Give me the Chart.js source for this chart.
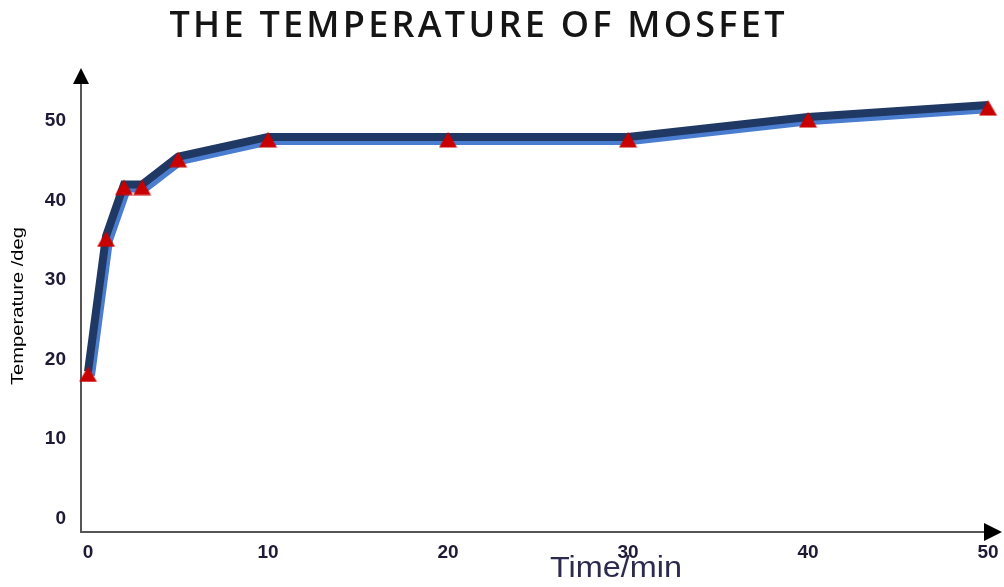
<!DOCTYPE html>
<html>
<head>
<meta charset="utf-8">
<title>The Temperature of MOSFET</title>
<script src="https://cdn.jsdelivr.net/npm/chart.js@4/dist/chart.umd.min.js"></script>
<style>
  html, body { margin: 0; padding: 0; background: #ffffff; }
  #wrap { width: 1004px; height: 587px; }
</style>
</head>
<body>
<div id="wrap"><canvas id="chart" width="1004" height="587"></canvas></div>
<script>
// Time since power-on (min) and measured MOSFET temperature (deg)
const time = [0, 1, 2, 3, 5, 10, 20, 30, 40, 50];
const temperature = [18.5, 35.5, 42, 42, 45.5, 48, 48, 48, 50.5, 52];

// Axis tick values
const xTicks = [0, 10, 20, 30, 40, 50];
const yTicks = [0, 10, 20, 30, 40, 50];

const chartTitle = 'THE TEMPERATURE OF MOSFET';
const xTitle = 'Time/min';
const yTitle = 'Temperature /deg';

const points = time.map((t, i) => ({ x: t, y: temperature[i] }));

// Red triangle marker, sitting slightly below the data point
function makeTriangle() {
  const c = document.createElement('canvas');
  c.width = 19; c.height = 22;
  const g = c.getContext('2d');
  g.fillStyle = '#c80000';
  g.beginPath();
  g.moveTo(9.5, 6);
  g.lineTo(18.5, 21.5);
  g.lineTo(0.5, 21.5);
  g.closePath();
  g.fill();
  return c;
}
const triangle = makeTriangle();

const tickFont = { family: "'Liberation Sans', Arial, sans-serif", size: 19, weight: 'bold' };
const tickColor = '#1e1a35';

// Offset blue "shadow" under the navy line
const lineShadow = {
  id: 'lineShadow',
  beforeDatasetDraw(chart, args) {
    if (args.index !== 1) return;
    const ctx = chart.ctx;
    ctx.save();
    ctx.shadowColor = '#4a7dd0';
    ctx.shadowOffsetX = 3;
    ctx.shadowOffsetY = 4;
    ctx.shadowBlur = 0;
  },
  afterDatasetDraw(chart, args) {
    if (args.index !== 1) return;
    chart.ctx.restore();
  }
};

// White page, arrow heads on both axes, and the titles
const decorations = {
  id: 'decorations',
  beforeDraw(chart) {
    const ctx = chart.ctx;
    ctx.save();
    ctx.fillStyle = '#ffffff';
    ctx.fillRect(0, 0, chart.width, chart.height);
    ctx.restore();
  },
  afterDraw(chart) {
    const ctx = chart.ctx;
    const a = chart.chartArea;
    ctx.save();

    // arrow heads
    ctx.fillStyle = '#000000';
    ctx.beginPath();
    ctx.moveTo(a.left, a.top - 15);
    ctx.lineTo(a.left + 8, a.top + 1);
    ctx.lineTo(a.left - 8, a.top + 1);
    ctx.closePath();
    ctx.fill();

    ctx.beginPath();
    ctx.moveTo(a.right + 12, a.bottom);
    ctx.lineTo(a.right - 6, a.bottom - 9);
    ctx.lineTo(a.right - 6, a.bottom + 9);
    ctx.closePath();
    ctx.fill();

    // chart title, letter-spaced to its full width
    ctx.fillStyle = '#151515';
    ctx.font = "600 36px 'Open Sans', 'Liberation Sans', sans-serif";
    ctx.textBaseline = 'alphabetic';
    ctx.textAlign = 'left';
    const n = chartTitle.length;
    const w0 = ctx.measureText(chartTitle).width;
    const targetW = 615;
    const spacing = Math.max(0, (targetW - w0) / (n - 1));
    if ('letterSpacing' in ctx) {
      ctx.letterSpacing = spacing + 'px';
      ctx.fillText(chartTitle, 477 - targetW / 2, 37);
      ctx.letterSpacing = '0px';
    } else {
      let x = 477 - targetW / 2;
      for (const ch of chartTitle) {
        ctx.fillText(ch, x, 37);
        x += ctx.measureText(ch).width + spacing;
      }
    }

    // x axis title
    ctx.fillStyle = '#2c2b4e';
    ctx.font = "30px 'Liberation Sans', Arial, sans-serif";
    ctx.textAlign = 'center';
    ctx.textBaseline = 'alphabetic';
    const xw = ctx.measureText(xTitle).width;
    ctx.save();
    ctx.translate(616, 577);
    ctx.scale(132 / xw, 1);
    ctx.fillText(xTitle, 0, 0);
    ctx.restore();

    // y axis title
    ctx.fillStyle = '#000000';
    ctx.font = "17px 'Liberation Sans', Arial, sans-serif";
    const yw = ctx.measureText(yTitle).width;
    ctx.save();
    ctx.translate(23, 306);
    ctx.rotate(-Math.PI / 2);
    ctx.scale(158 / yw, 1);
    ctx.textAlign = 'center';
    ctx.fillText(yTitle, 0, 0);
    ctx.restore();

    ctx.restore();
  }
};

new Chart(document.getElementById('chart'), {
  type: 'line',
  data: {
    datasets: [
      {
        label: 'markers',
        data: points,
        showLine: false,
        pointStyle: triangle,
        pointRadius: 9,
        clip: false
      },
      {
        label: 'Temperature',
        data: points,
        borderColor: '#1f3864',
        borderWidth: 8,
        borderJoinStyle: 'miter',
        tension: 0,
        pointRadius: 0,
        fill: false,
        clip: false
      }
    ]
  },
  options: {
    responsive: false,
    animation: false,
    events: [],
    layout: { padding: { top: 83, right: 14, bottom: 0, left: 0 } },
    plugins: {
      legend: { display: false },
      title: { display: false },
      tooltip: { enabled: false }
    },
    scales: {
      x: {
        type: 'linear',
        min: -0.39,
        max: 50.11,
        afterBuildTicks(s) { s.ticks = xTicks.map(v => ({ value: v })); },
        afterFit(s) { s.height = 55; s.paddingLeft = 0; s.paddingRight = 0; },
        grid: { display: false, drawTicks: false },
        border: { display: true, color: '#555555', width: 2 },
        ticks: {
          font: tickFont,
          color: tickColor,
          padding: 9,
          maxRotation: 0,
          autoSkip: false
        }
      },
      y: {
        type: 'linear',
        min: -1.7,
        max: 54.78,
        afterBuildTicks(s) { s.ticks = yTicks.map(v => ({ value: v })); },
        afterFit(s) { s.width = 81; s.paddingTop = 0; s.paddingBottom = 0; },
        grid: { display: false, drawTicks: false },
        border: { display: true, color: '#555555', width: 2 },
        ticks: {
          font: tickFont,
          color: tickColor,
          padding: 15
        }
      }
    }
  },
  plugins: [lineShadow, decorations]
});
</script>
</body>
</html>
